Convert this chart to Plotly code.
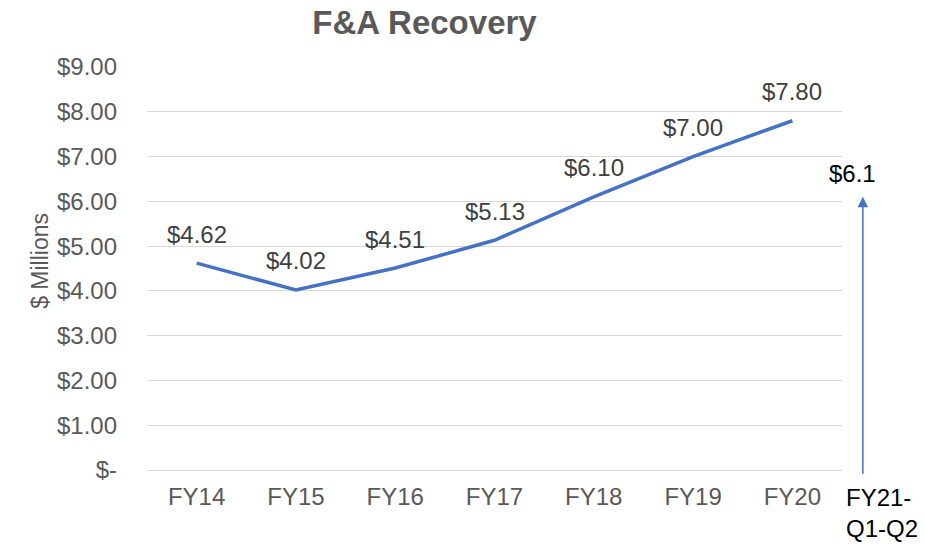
import plotly.graph_objects as go

categories = ["FY14", "FY15", "FY16", "FY17", "FY18", "FY19", "FY20"]
values = [4.62, 4.02, 4.51, 5.13, 6.10, 7.00, 7.80]
labels = ["$4.62", "$4.02", "$4.51", "$5.13", "$6.10", "$7.00", "$7.80"]
ytick_vals = [0, 1, 2, 3, 4, 5, 6, 7, 8, 9]
ytick_text = ["$-", "$1.00", "$2.00", "$3.00", "$4.00", "$5.00", "$6.00", "$7.00", "$8.00", "$9.00"]
fy21_label = "FY21-<br>Q1-Q2"
fy21_value = 6.1
fy21_text = "$6.1"

FONT = "Liberation Sans, Arial, sans-serif"
BLUE = "#4472C4"

W, H = 925, 547
ML, MR, MT, MB = 147, 83, 67, 77

fig = go.Figure()
fig.add_trace(go.Scatter(
    x=categories, y=values, mode="lines",
    line=dict(color=BLUE, width=3.5),
    hoverinfo="skip", showlegend=False,
))

annotations = []
for c, v, t in zip(categories, values, labels):
    annotations.append(dict(
        x=c, y=v, xref="x", yref="y", text=t, showarrow=False,
        yanchor="middle", yshift=29,
        font=dict(family=FONT, size=24, color="#404040"),
    ))

# FY21 arrow
annotations.append(dict(
    x=1.03, y=fy21_value, xref="x domain", yref="y",
    ax=1.03, ay=-0.12, axref="x domain", ayref="y",
    showarrow=True, arrowhead=2, arrowsize=1.4, arrowwidth=1.5,
    arrowcolor=BLUE, text="", standoff=0,
))
annotations.append(dict(
    x=1.052, y=fy21_value, xref="x domain", yref="y", text=fy21_text,
    showarrow=False, yanchor="middle", yshift=23,
    font=dict(family=FONT, size=24, color="#000000"),
))
annotations.append(dict(
    x=1.003, y=0, xref="x domain", yref="y", text=fy21_label,
    showarrow=False, xanchor="left", yanchor="top", yshift=-12, align="left",
    font=dict(family=FONT, size=24, color="#000000"),
))
annotations.append(dict(
    x=(25 - ML) / (W - ML - MR), y=0.519, xref="paper", yref="paper", text="$ Millions",
    showarrow=False, textangle=-90,
    font=dict(family=FONT, size=23, color="#595959"),
))

fig.update_layout(
    width=W, height=H,
    margin=dict(l=ML, r=MR, t=MT, b=MB),
    paper_bgcolor="white", plot_bgcolor="white",
    title=dict(text="<b>F&A Recovery</b>", x=424.5 / W, xanchor="center",
               y=1 - 22 / H, yanchor="middle",
               font=dict(family=FONT, size=33, color="#595959")),
    xaxis=dict(type="category", range=[-0.5, 6.5], showgrid=False,
               showline=False, zeroline=False, ticks="",
               tickfont=dict(family=FONT, size=24, color="#595959"),
               ticklabelstandoff=10),
    yaxis=dict(range=[0, 9], tickvals=ytick_vals, ticktext=ytick_text,
               showgrid=True, gridcolor="#D9D9D9", gridwidth=1.3,
               zeroline=True, zerolinecolor="#D9D9D9", zerolinewidth=1.3,
               showline=False, ticks="",
               tickfont=dict(family=FONT, size=24, color="#595959"),
               ticklabelstandoff=29),
    annotations=annotations,
)

fig.write_html("out.html", config={"displayModeBar": False},
               post_script="document.body.style.margin='0px';")
